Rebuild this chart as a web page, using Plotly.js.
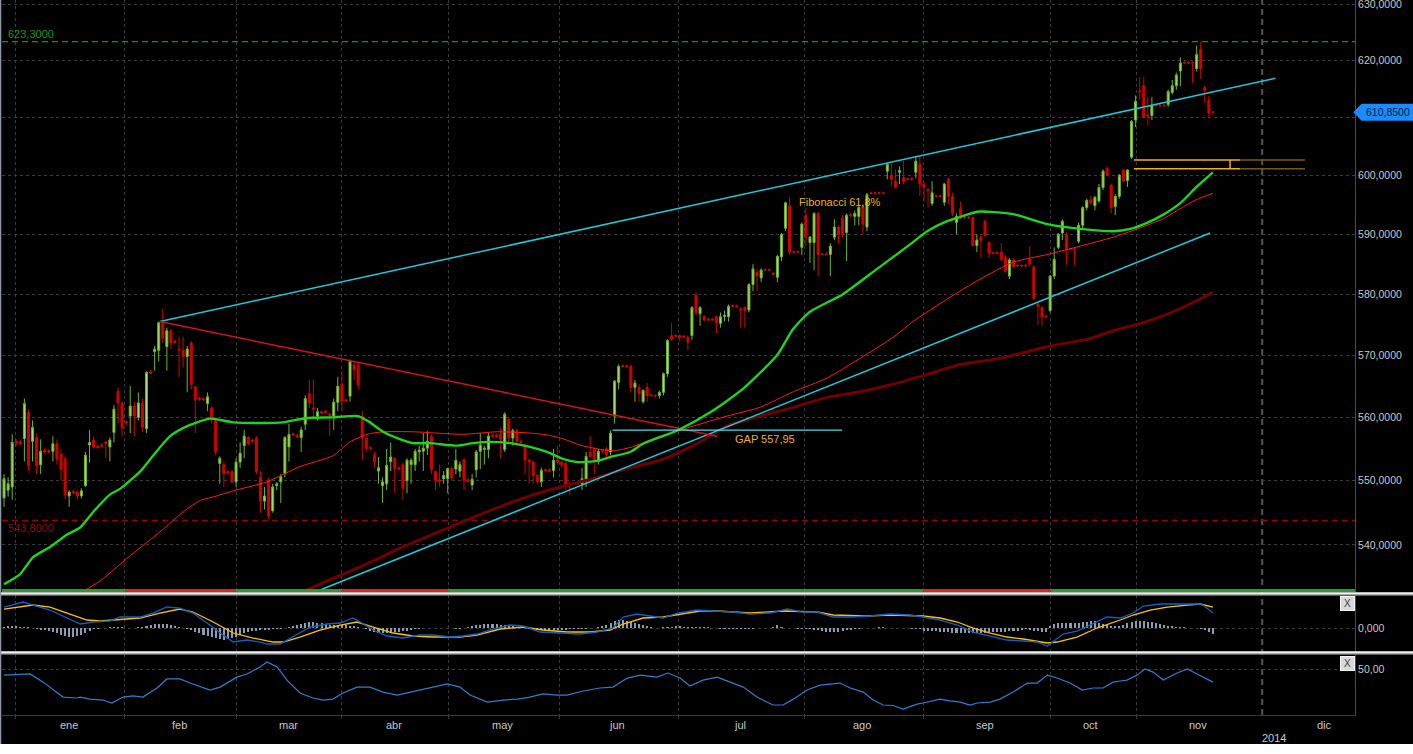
<!DOCTYPE html>
<html><head><meta charset="utf-8">
<script src="https://cdn.plot.ly/plotly-3.0.1.min.js"></script>
<style>html,body{margin:0;padding:0;background:#000;}#chart{width:1413px;height:754px;}</style>
</head><body><div id="chart"></div>
<script>
// ---- candle data (bar index 0..297) ----
const open = [547.3,548.5,549.0,556.2,556.1,556.6,560.8,556.2,556.8,552.5,
554.8,554.7,554.6,555.8,554.2,553.4,547.6,548.3,548.2,547.6,
549.2,555.6,556.4,555.4,555.6,556.1,555.3,557.6,564.2,562.2,
559.3,560.2,561.8,560.0,562.2,558.2,567.3,570.6,570.8,575.3,
571.4,574.0,572.3,571.0,570.8,569.8,572.0,564.9,563.1,563.0,
562.2,561.5,559.7,552.7,552.5,551.4,551.4,549.8,552.9,555.5,
556.8,556.4,556.7,550.6,546.8,550.0,545.3,549.2,549.8,551.1,
555.3,557.4,557.1,556.8,558.9,563.8,561.5,560.2,560.9,561.0,
560.5,560.2,562.4,565.3,562.8,563.4,568.4,568.4,560.2,556.7,
555.2,554.0,551.5,549.2,549.5,553.0,553.5,552.0,552.5,550.0,
552.5,552.5,554.5,554.6,555.1,557.0,551.4,550.1,550.3,550.3,
551.9,551.8,551.5,553.3,550.1,549.3,551.7,554.6,554.9,554.9,
557.1,557.2,557.3,554.9,559.7,556.7,557.9,556.2,555.6,553.2,
552.9,550.8,549.8,551.7,551.7,551.6,553.3,552.9,552.7,549.6,
549.6,549.7,549.5,550.0,554.5,555.0,553.0,554.8,555.0,554.5,
560.2,565.6,568.3,568.3,568.2,564.8,564.8,562.5,564.8,563.6,
563.5,563.5,564.0,567.0,573.2,573.2,573.2,573.1,572.9,573.2,
579.8,576.8,576.3,575.9,575.9,576.3,575.2,576.3,576.3,578.1,
578.1,577.6,577.8,577.4,581.6,583.6,582.7,584.1,584.1,583.5,
582.8,586.2,591.0,594.8,587.1,587.1,587.8,593.2,588.6,588.6,
593.5,586.7,586.7,586.6,589.5,591.2,592.7,590.3,593.3,593.0,
593.0,594.8,591.2,597.0,597.0,597.0,597.0,600.7,600.0,599.0,
600.5,599.6,599.4,599.4,600.5,601.9,598.5,597.6,595.2,596.5,
596.5,595.4,599.3,596.4,592.0,594.3,592.9,592.9,592.8,588.1,
589.5,592.2,588.6,586.9,586.9,587.0,586.2,583.0,585.7,584.8,
584.8,584.8,585.8,584.5,578.3,577.8,576.4,577.3,583.0,587.8,
590.2,590.0,587.6,587.6,588.8,591.5,594.5,595.8,594.8,595.6,
597.9,601.2,598.3,594.7,596.4,600.9,599.1,603.1,609.5,614.6,
615.5,610.4,610.3,612.1,612.1,612.1,612.2,614.3,615.5,618.1,
619.6,619.6,619.6,618.5,621.9,615.2,613.0,610.95];
const high = [551.0,550.5,557.3,556.5,556.4,563.0,561.3,559.5,557.5,556.5,
555.2,555.0,557.0,556.5,555.0,553.8,548.5,548.6,548.5,548.8,
554.5,558.0,557.0,555.6,555.9,556.3,556.8,562.0,564.8,562.5,
559.5,565.0,562.5,564.0,563.0,567.4,567.6,571.5,575.5,577.6,
574.5,574.3,572.5,573.0,573.0,571.5,572.3,565.0,563.3,563.2,
564.0,561.8,560.0,553.8,553.0,551.6,551.6,553.5,556.0,558.0,
557.0,556.6,557.0,551.5,549.0,550.5,549.5,549.8,551.0,557.0,
559.0,557.6,557.4,558.5,563.5,566.0,566.0,561.5,561.1,561.2,
560.8,563.0,566.5,567.5,563.0,569.3,569.0,568.8,561.0,557.0,
555.4,554.5,553.7,550.5,555.0,556.0,553.7,552.2,552.8,553.5,
553.5,555.0,555.5,557.5,557.8,557.3,551.6,552.5,551.5,552.0,
552.2,555.0,553.0,553.5,550.4,551.0,554.8,557.5,555.5,557.5,
557.3,557.4,558.3,560.8,560.0,558.2,558.2,556.4,555.8,553.4,
553.1,551.0,552.0,551.9,551.9,555.0,555.5,553.1,553.0,549.8,
549.8,550.0,552.0,554.5,557.0,555.3,555.0,555.0,555.3,557.95,
566.0,568.5,568.5,568.5,568.4,566.0,565.3,564.5,565.5,563.8,
563.7,564.3,567.2,572.6,575.3,573.4,573.4,573.3,573.2,578.0,
580.3,578.0,576.6,576.1,576.1,576.5,577.0,577.3,578.3,578.3,
578.3,577.8,578.0,581.8,585.0,584.2,584.3,584.3,584.3,583.7,
586.5,590.2,595.5,596.2,587.3,587.3,592.0,594.6,589.7,593.7,
593.8,586.9,586.9,588.5,592.5,591.5,593.2,593.5,593.5,594.0,
595.0,595.0,597.0,597.2,597.2,597.2,597.2,601.9,602.0,601.0,
601.5,602.5,599.6,599.6,603.3,603.3,598.8,597.8,599.0,596.7,
596.7,598.7,599.6,597.0,593.5,595.5,593.1,593.1,593.0,590.0,
590.0,592.5,588.8,587.1,587.1,588.5,586.5,586.0,586.0,585.0,
585.0,585.0,588.0,584.8,578.8,578.0,576.6,583.2,587.8,590.2,
592.5,590.3,587.8,587.8,592.0,594.7,596.0,596.5,596.5,598.5,
601.0,601.5,598.6,596.8,600.2,601.1,601.0,609.5,613.8,617.0,
617.0,613.6,613.5,612.3,612.3,612.3,614.8,616.5,617.8,620.5,
619.8,619.8,619.8,622.6,623.3,615.5,613.7,611.0];
const low = [545.9,547.5,547.0,555.5,555.6,553.0,551.5,553.0,551.0,551.0,
554.2,554.3,553.0,552.5,550.0,547.1,545.9,547.8,547.0,547.2,
549.0,552.8,555.0,555.0,555.2,553.5,553.0,556.0,559.0,557.0,
558.8,557.5,557.0,559.5,557.7,557.5,567.0,567.5,569.0,572.0,
567.5,571.0,571.8,566.5,568.0,564.0,564.5,557.5,562.6,562.6,
561.0,559.0,554.0,549.5,549.0,551.0,549.5,549.0,552.0,553.5,
555.5,556.0,551.0,545.0,545.5,544.0,545.0,548.5,546.5,550.5,
553.0,557.0,556.7,554.5,558.0,561.5,560.0,559.5,560.5,560.6,
557.0,558.0,561.0,561.0,562.4,562.5,566.0,564.5,553.2,554.5,
554.8,552.0,549.5,546.5,548.5,551.5,548.0,551.6,547.0,548.0,
549.5,551.5,553.0,551.5,554.0,551.0,548.5,549.0,549.5,548.0,
550.0,551.0,550.5,548.5,549.7,548.5,550.5,551.8,552.5,553.5,
556.8,556.7,553.5,554.5,556.0,555.5,555.8,555.8,551.0,549.5,
549.5,549.5,549.0,551.4,551.3,550.5,552.5,552.0,548.5,547.7,
549.3,549.3,548.5,549.0,553.5,551.0,552.5,554.3,553.5,554.0,
559.0,564.5,568.0,568.0,564.0,562.5,562.5,562.2,562.5,563.3,
563.2,563.0,563.5,566.5,572.3,572.9,572.2,572.8,570.8,572.5,
576.5,574.8,575.5,575.6,575.6,573.6,574.5,575.5,575.5,577.8,
577.8,574.5,574.5,577.0,580.5,580.5,582.0,583.8,583.8,583.1,
582.0,585.5,590.5,586.5,586.8,586.8,586.5,588.0,585.2,584.0,
583.0,586.4,586.4,583.0,589.0,588.5,589.5,585.5,593.0,591.5,
591.5,590.0,590.5,596.7,596.7,596.7,596.7,599.3,598.1,597.8,
598.5,598.5,599.1,599.1,599.5,596.5,595.5,594.5,594.8,596.2,
596.2,594.8,595.0,593.0,590.0,592.5,592.6,592.6,588.0,587.0,
586.0,589.5,586.0,586.6,586.6,585.5,583.5,582.5,584.3,584.5,
584.5,584.5,584.5,579.0,575.0,574.8,576.1,577.0,582.5,587.5,
589.0,584.8,587.3,584.8,588.5,591.0,594.0,595.0,594.0,595.3,
597.5,599.8,593.5,593.2,596.0,598.8,598.0,602.8,608.3,613.0,
609.8,608.6,609.5,611.8,611.8,611.8,611.8,614.0,614.8,615.4,
619.3,619.3,616.0,618.0,616.7,612.5,609.8,610.7];
const close = [550.3,549.5,556.0,555.9,555.8,562.2,552.4,558.4,552.4,554.6,
554.5,554.5,555.8,553.4,551.8,547.8,548.2,548.1,547.6,548.4,
554.0,556.0,555.3,555.2,555.4,555.9,556.4,561.3,562.3,558.4,
559.1,561.8,560.2,562.3,558.4,567.2,567.1,571.0,575.3,572.8,
574.0,572.0,572.1,570.8,569.8,571.0,565.3,562.8,562.9,562.8,
563.3,559.7,554.5,553.5,551.1,551.2,549.8,552.9,554.3,557.0,
555.8,556.2,551.4,546.8,547.6,544.5,549.0,549.5,550.6,556.8,
557.3,557.2,556.9,558.0,563.0,562.3,561.3,560.9,560.7,560.8,
560.3,562.4,565.0,562.6,562.6,569.0,567.7,565.2,556.7,555.1,
555.0,553.0,552.0,549.8,552.4,553.7,551.9,551.8,548.8,553.2,
553.2,554.6,554.8,555.1,556.2,551.7,550.0,549.9,550.8,551.9,
550.4,553.2,552.5,550.0,549.9,550.2,554.5,555.6,555.1,557.0,
557.0,556.9,556.5,560.5,556.7,557.9,556.2,556.0,553.2,552.9,
550.8,549.8,551.6,551.6,551.5,553.2,552.9,552.5,549.3,549.5,
549.5,549.6,550.3,553.8,553.8,553.2,554.6,554.6,554.1,557.5,
565.8,568.2,568.2,568.1,564.8,565.5,563.8,564.3,563.5,563.5,
563.4,564.0,567.0,572.4,572.6,573.1,573.0,573.0,572.2,577.8,
577.0,577.8,575.8,575.8,575.8,575.3,576.3,576.5,578.0,578.0,
577.9,577.4,577.3,581.6,584.2,583.0,584.0,584.0,584.0,583.3,
586.3,590.0,595.3,587.0,587.0,587.0,591.7,589.5,589.5,593.5,
586.6,586.6,586.6,588.0,591.2,590.0,590.0,593.2,593.1,593.5,
594.5,591.7,596.7,596.9,596.9,596.9,596.9,601.9,599.3,598.0,
600.8,598.9,599.3,599.3,602.4,598.5,598.0,597.4,597.0,596.4,
596.4,598.5,596.4,593.5,593.0,592.8,592.8,592.8,588.1,589.0,
589.0,589.8,586.8,586.8,586.8,585.8,583.8,585.7,584.6,584.7,
584.7,584.7,585.0,579.3,578.0,576.3,576.3,583.0,585.8,590.0,
592.2,587.5,587.5,587.5,591.5,594.5,595.7,595.3,596.2,597.9,
600.7,600.0,594.5,596.4,600.0,599.0,600.9,609.3,612.8,614.4,
610.0,610.2,612.0,612.0,612.0,612.0,614.5,615.5,617.4,619.5,
619.5,619.5,619.5,621.0,618.5,614.7,610.7,610.85];

// ---- moving averages (bar index, value) ----
const maGreenX = [0,3.9,7.1,11.3,15.5,18.7,21.9,26,28.5,33.4,36.6,40.8,45,50.6,56.3,62.9,68.6,74.4,80.8,87,89.9,93.1,96.6,100.5,104.7,111.3,115.2,119.4,124.3,129.2,133.4,137.3,140.8,145.7,148.9,153.8,157,165.4,173.5,181.6,189.9,193.9,198,206.1,214.5,222.6,226.8,231.7,234.9,239.1,247.9,256.3,264.4,272.5,276.7,280.8,284.8,288.9,293.1,297];
const maGreenY = [534.0,535.5,538.1,539.7,541.6,542.7,545.1,547.8,548.7,551.4,553.9,557.0,558.6,559.8,559.2,559.1,559.2,559.9,560.0,560.2,559.2,557.7,556.7,555.9,555.9,555.5,555.9,556.1,555.9,555.3,554.5,553.4,552.9,553.1,553.7,554.5,555.8,557.9,560.8,564.6,570.0,574.3,577.1,580.0,584.2,588.3,590.5,592.2,592.9,593.8,593.4,591.7,590.9,590.5,590.9,591.9,593.3,595.2,598.1,600.5];
const maRedX = [19.4,23.6,31.7,35.9,40,44,48.2,52.3,56.3,64.6,72.7,80.8,85,89.2,93.1,100.5,112.8,121.1,129.2,133.4,137.3,141.5,145.7,149.6,153.8,161.2,169.3,177.6,185.7,193.9,202.2,210.3,218.4,223.3,231.7,239.8,247.9,256.3,264.4,272.5,278.4,284.8,288.9,293.1,297];
const maRedY = [532.9,534.5,538.7,540.8,542.9,545.1,546.9,547.6,548.4,549.8,552.2,553.9,556.1,557.3,557.7,557.7,557.3,557.7,557.5,557.2,556.6,555.6,555.0,554.7,555.2,557.0,558.6,560.2,561.6,564.1,566.3,569.5,572.9,575.5,579.2,582.5,585.3,586.6,588.0,589.5,590.9,592.6,594.3,595.9,596.9];
const maDarkX = [73.5,80.8,89.2,97.3,120.1,129.2,137.3,145.7,153.8,161.2,169.3,177.6,185.7,193.9,202.2,210.3,218.4,226.8,234.9,244.7,257,266.8,272.5,280.8,288.9,297];
const maDarkY = [532.9,534.9,537.1,539.5,545.5,547.6,549.1,550.5,552.0,553.2,555.5,558.6,560.2,561.6,563.2,564.1,565.3,566.9,568.5,569.5,571.5,572.7,574.0,575.5,577.6,580.3];

// ---- drawn lines / levels ----
const upperChannelX = [38.3, 312.3], upperChannelY = [575.5, 616.8];
const lowerChannelX = [76.4, 296.3], lowerChannelY = [532.8, 590.2];
const downTrendX = [38.3, 175.2], downTrendY = [575.5, 557.0];
const gapX = [149.5, 205.9], gapLevel = 557.95;
const orangeX = [277.6, 303.7, 319.6], orangeTop = 602.6, orangeBottom = 601.1, orangeJoinX = 301.2;
const highLevel = 623.3, lowLevel = 543.8;
const fiboX = 194.8, fiboY = 595.5;

// ---- MACD panel ----
const macdX = [0,2.2,4.7,7.1,11.3,15.5,18.7,21.9,26,28.5,33.4,36.6,40,43.2,46.4,49.9,53.1,56.3,59.7,62.9,64.6,67.8,71,75.2,79.4,82.6,85.7,87.5,90.7,94.1,98,102.2,105.4,109.6,112.8,116.2,120.1,124.3,127.5,131.7,136.6,141.5,145.7,149.6,152.1,155.5,158.7,161.9,165.4,170.3,174.2,179.1,183.3,188.2,192.4,196.3,199.8,203.7,207.9,212.8,217.7,222.6,225.8,230,234.2,238.1,242.3,246.4,250.4,253.8,256.3,257.7,260.2,263.6,266.8,271,274.2,277.4,279.9,284,288.2,293.1,294.6,297];
const macdY = [21,23,26,23,18,10,4,6,7,11,11,15,21,20,15,5,-5,-14,-12,-14,-16,-16,-9,1,4,5,10,6,-2,-8,-10,-7,-7,-9,-8,-6,-1,3,2,-4,-5,-6,-4,0,11,14,12,10,15,18,17,16,14,15,19,16,16,11,11,12,14,13,11,8,3,-4,-8,-12,-13,-14,-18,-14,-6,-3,3,11,10,15,22,24,24,24,23,15];
const signalX = [0,3.9,7.1,11.3,15.5,20.4,23.6,27.8,33.4,38.3,43.2,46.4,51.4,56.3,61.2,66.1,68.6,72.7,77.6,82.6,86.7,90.7,95.6,100.5,105.4,112,116.2,121.9,127.5,132.4,138.3,144,148.9,152.1,157,161.9,166.8,171,175.2,183.3,191.4,199.8,203.7,212,217.7,225.8,230,234.2,238.1,242.3,246.4,250.4,256.3,258.7,263.6,268.5,274.2,277.4,281.6,285.8,290.7,293.9,297];
const signalY = [19,21,23,21,15,8,7,8,10,15,19,16,6,-5,-10,-14,-14,-9,-2,3,6,1,-5,-8,-9,-9,-7,-1,1,-2,-4,-4,-2,4,10,11,14,17,17,15,17,16,13,12,13,12,10,6,0,-5,-9,-11,-15,-14,-9,0,8,13,18,21,23,24,21];
const histY = [1.5,2,2,2,1.5,1,1,0.5,
-1,-1.5,-2,-3,-4,-5,-7,-8,-9,-9,-8,-7,-5,-3,
-1,-0.5,0,0.5,1,1,1.5,1,0.5,0,0.5,1,1.5,
2,3,4,4.5,4.5,4,3,2,1,0,-0.5,
-2,-3.5,-5,-6.5,-8,-9,-10,-11,-12,-11,-10,-9,-7,-5,
-4,-3,-2.5,-2,-2,-1.5,-1,-1,-0.5,0,1,
2,3,4,5,6,6,5.5,5,4,3.5,
3,3,3.5,3,2.5,2,1,0,-1,-3,
-4,-5,-5,-5,-4.5,-4,-3.5,-3,-2.5,-2,-1,
-0.5,0,0,0.5,0.5,0.5,0,0,0,-0.5,-0.5,
0.5,1,2,3,3.5,4,4,4,4,3.5,3,2.5,2,1,0.5,0,
-1,-1.5,-2,-2,-2,-2,-1.5,-1.5,-1.5,-1.5,-1,-1,-1,-0.5,-0.5,0,0,
1,2,3,5,7,8,8,7,6,5,4,3,2,1,0.5,
0.5,1,1,1.5,2,2,1.5,1.5,1.5,1,1,1,1,0.5,0,
-0.5,-1,-1,-1,-1,-1,-0.5,-0.5,-0.5,0,0,0.5,0.5,1,3,
1,0.5,0,0,-0.5,-0.5,-1,-1,-1.5,-2,
-3,-3.5,-4,-4,-3.5,-3,-2,-1.5,-1,-0.5,0,0,
0.5,0.5,1,1,0.5,0.5,0,0,
0,0,-0.5,-0.5,-1,-2.5,-3,-3,-3,-3.5,-3.5,-4,-4.5,-5,-5,-5,-5,-5,-5,-4.5,-4.5,-4,-4,-4,-3.5,-3.5,-3,-3,-2.5,-2,-1,-1.5,-2.5,-3,-3.5,-3.5,
2,4,5,5,5,5,5,5,6,6,7,7,5,4,3,2.5,2,2,3,
5,6,7,7.5,7,6.5,6,5,4,3,
2.5,2,1.5,1,1,0.5,0.5,0,
-1,-2,-4,-6];

// ---- lower oscillator panel ----
const oscX = [0,6.4,9.6,14.5,17.9,18.7,21.1,24.3,26.5,29.2,31.7,34.1,37.6,40,43.2,45.7,50.6,53.1,57.2,59.7,62.9,64.6,67.1,69.5,72.7,75.9,78.4,80.8,83.3,86.7,89.9,93.1,96.6,99.8,104.7,108.9,112,114.5,118.7,122.6,126.1,129.2,132.4,135.9,138.3,142.3,146.4,149.6,153.1,156.3,160.4,163.1,166.1,168.5,171.7,175.2,178.4,181.6,185,188.9,191.4,193.9,197.3,200.5,205.4,207.9,211.1,213.5,216,218.4,220.9,224.3,225.8,230,232.4,234.9,237.3,239.1,242.3,244.7,247.9,251.4,253.8,256.3,258.7,261.9,264.9,267.6,270,272.5,274.2,275.9,278.4,280.3,282.3,284.8,288.2,290.7,293.1,297];
const oscY = [47.6,48.1,44.5,37.9,37.5,37.9,37.0,36.6,35.3,37.9,38.4,37.9,41.9,45.9,45.9,44.1,41.0,42.3,46.7,48.1,51.2,53.4,51.2,45.4,39.7,37.5,36.6,37.0,39.7,42.3,42.3,40.1,38.8,40.1,42.3,43.7,42.3,38.8,35.7,36.6,37.0,37.9,39.3,38.8,38.8,40.6,41.9,42.3,46.3,47.6,46.7,48.5,46.3,42.8,45.4,46.7,44.5,42.3,37.9,34.4,34.4,37.0,41.0,43.2,44.1,41.9,40.1,36.6,34.4,34.2,32.6,34.8,35.3,37.0,36.2,35.7,34.4,35.3,35.7,37.0,40.1,44.1,44.1,47.6,46.3,44.1,41.0,41.9,41.9,44.5,45.0,45.4,47.6,50.3,48.9,45.4,48.5,50.3,48.1,44.5];

// ---- axis labels ----
const monthNames = ['ene','feb','mar','abr','may','jun','jul','ago','sep','oct','nov','dic'];
const monthStarts = [2.9,29.7,57.0,83.0,109.1,136.4,165.6,196.6,225.8,257.2,278.1,309.1];
const monthLabelPos = [16,43,69.8,95.8,122.4,150.6,180.8,210.8,241,267,293.4,324.3];
const yearLabel = '2014', yearLabelPos = 312.1;
const priceTicks = [540,550,560,570,580,590,600,610,620,630];
const stripStart = [-0.5,29.7,57.0,83.0,109.1,225.8,257.2];
const stripEnd   = [29.7,57.0,83.0,109.1,225.8,257.2,331.9];
const stripUp    = [true,false,true,false,true,false,true];

const XR = [-0.5, 331.9];
const YR = [2.72657, 2.79984];
const idx = open.map((_, i) => i);
const fmt = (v, d) => v.toFixed(d).replace('.', ',');
const L = Math.log10;
const FONT = 'Liberation Sans, Arial, sans-serif';
const TICKC = '#c8c8c8';
const lastClose = close[close.length - 1];

const traces = [
  {type:'scatter', mode:'lines', x:XR, y:[highLevel,highLevel], line:{color:'#0f9a0f', width:1.3, dash:'6px,4px'}, hoverinfo:'skip'},
  {type:'scatter', mode:'lines', x:XR, y:[lowLevel,lowLevel], line:{color:'#9a0000', width:1.3, dash:'6px,4px'}, hoverinfo:'skip'},
  {type:'scatter', mode:'lines', x:maDarkX, y:maDarkY, line:{color:'#6e0000', width:3, shape:'spline', smoothing:0.6}, hoverinfo:'skip'},
  {type:'scatter', mode:'lines', x:upperChannelX, y:upperChannelY, line:{color:'#1fc8d6', width:1.5}, hoverinfo:'skip'},
  {type:'scatter', mode:'lines', x:lowerChannelX, y:lowerChannelY, line:{color:'#1fc8d6', width:1.5}, hoverinfo:'skip'},
  {type:'scatter', mode:'lines', x:downTrendX, y:downTrendY, line:{color:'#d01515', width:1.5}, hoverinfo:'skip'},
  {type:'scatter', mode:'lines', x:maRedX, y:maRedY, line:{color:'#ff1a1a', width:1, shape:'spline', smoothing:0.6}, hoverinfo:'skip'},
  {type:'scatter', mode:'lines', x:maGreenX, y:maGreenY, line:{color:'#1ed41e', width:2.4, shape:'spline', smoothing:0.6}, hoverinfo:'skip'},
  {type:'scatter', mode:'lines', x:gapX, y:[gapLevel,gapLevel], line:{color:'#3fe0f0', width:1.2}, hoverinfo:'skip'},
  {type:'scatter', mode:'lines', x:[orangeX[0],orangeX[1]], y:[orangeTop,orangeTop], line:{color:'#f2b010', width:1.5}, hoverinfo:'skip'},
  {type:'scatter', mode:'lines', x:[orangeX[0],orangeX[1]], y:[orangeBottom,orangeBottom], line:{color:'#f2b010', width:1.5}, hoverinfo:'skip'},
  {type:'scatter', mode:'lines', x:[orangeX[1],orangeX[2]], y:[orangeTop,orangeTop], line:{color:'#7a5a10', width:1.5}, hoverinfo:'skip'},
  {type:'scatter', mode:'lines', x:[orangeX[1],orangeX[2]], y:[orangeBottom,orangeBottom], line:{color:'#7a5a10', width:1.5}, hoverinfo:'skip'},
  {type:'scatter', mode:'lines', x:[orangeJoinX,orangeJoinX], y:[orangeTop,orangeBottom], line:{color:'#f2b010', width:1.5}, hoverinfo:'skip'},
  {type:'candlestick', x:idx, open:open, high:high, low:low, close:close,
   increasing:{line:{color:'#6cb52c', width:1}, fillcolor:'#a9dc74'},
   decreasing:{line:{color:'#d40000', width:1}, fillcolor:'#d40000'},
   whiskerwidth:0, hoverinfo:'skip'},
  // MACD
  {type:'bar', x:idx, y:histY, xaxis:'x2', yaxis:'y2', width:0.5, marker:{color:'#8a9db0', line:{width:0}}, hoverinfo:'skip'},
  {type:'scatter', mode:'lines', x:signalX, y:signalY, xaxis:'x2', yaxis:'y2', line:{color:'#ffc000', width:1.3}, hoverinfo:'skip'},
  {type:'scatter', mode:'lines', x:macdX, y:macdY, xaxis:'x2', yaxis:'y2', line:{color:'#1060c8', width:1.3}, hoverinfo:'skip'},
  // oscillator
  {type:'scatter', mode:'lines', x:oscX, y:oscY, xaxis:'x3', yaxis:'y3', line:{color:'#2e7fd0', width:1.2}, hoverinfo:'skip'}
];

const gridX = monthStarts.slice(0, monthStarts.length - 1);
const xbase = {range:XR, type:'linear', autorange:false, tickvals:gridX, showticklabels:false,
  showgrid:true, gridcolor:'#3c3c3c', gridwidth:1, griddash:'dot', zeroline:false, ticks:'', fixedrange:true};

const shapes = [];
for (let i = 0; i < stripStart.length; i++) {
  shapes.push({type:'rect', xref:'x', yref:'paper', x0:stripStart[i], x1:stripEnd[i], y0:0.1720, y1:0.1762,
    fillcolor: stripUp[i] ? '#2b9b2b' : '#e02222', line:{width:0}, layer:'above'});
}
shapes.push({type:'line', xref:'x', yref:'paper', x0:monthStarts[11], x1:monthStarts[11], y0:0, y1:1,
  line:{color:'#555555', width:2, dash:'6px,4px'}, layer:'below'});
[0.1699, 0.0874].forEach(y => {
  shapes.push({type:'line', xref:'paper', yref:'paper', x0:-0.002, x1:1.05, y0:y, y1:y, line:{color:'#f2f2f2', width:2.5}});
  shapes.push({type:'line', xref:'paper', yref:'paper', x0:-0.002, x1:1.05, y0:y-0.0025, y1:y-0.0025, line:{color:'#7a7a7a', width:1}});
});
shapes.push({type:'line', xref:'paper', yref:'paper', x0:-0.0011, x1:-0.0011, y0:-0.0406, y1:1, line:{color:'#8a98a8', width:1.5}});
shapes.push({type:'rect', xref:'paper', yref:'paper', x0:-0.01, x1:1.05, y0:-0.07, y1:-0.0406, fillcolor:'#ffffff', line:{width:0}});
// last-price tab, positioned from the price axis scale
const lastFrac = (L(lastClose) - YR[0]) / (YR[1] - YR[0]);
const tabH = 8.5 / 592;
shapes.push({type:'path', xref:'paper', yref:'y domain',
  path:'M 0.9988,' + lastFrac + ' L 1.0048,' + (lastFrac + tabH) + ' L 1.0435,' + (lastFrac + tabH) +
       ' L 1.0435,' + (lastFrac - tabH) + ' L 1.0048,' + (lastFrac - tabH) + ' Z',
  fillcolor:'#1a8cff', line:{width:0}});

const annotations = [];
monthNames.forEach((m, i) => annotations.push({xref:'x', yref:'paper', x:monthLabelPos[i], y:-0.014, text:m,
  showarrow:false, font:{family:FONT, size:11, color:TICKC}, xanchor:'center', yanchor:'middle'}));
annotations.push({xref:'x', yref:'paper', x:yearLabelPos, y:-0.0325, text:yearLabel, showarrow:false,
  font:{family:FONT, size:11, color:TICKC}, xanchor:'center', yanchor:'middle'});
annotations.push({xref:'x', yref:'y', x:0.6, y:L(highLevel), text:fmt(highLevel,4), showarrow:false,
  font:{family:FONT, size:11, color:'#129a12'}, xanchor:'left', yanchor:'bottom'});
annotations.push({xref:'x', yref:'y', x:0.6, y:L(lowLevel), text:fmt(lowLevel,4), showarrow:false,
  font:{family:FONT, size:11, color:'#8e0a0a'}, xanchor:'left', yanchor:'top'});
annotations.push({xref:'x', yref:'y', x:fiboX, y:L(fiboY), text:'Fibonacci 61,8%', showarrow:false,
  font:{family:FONT, size:11, color:'#f2b010'}, xanchor:'left', yanchor:'middle'});
annotations.push({xref:'x', yref:'y', x:179.1, y:L(gapLevel), text:'GAP ' + fmt(gapLevel,2), showarrow:false,
  font:{family:FONT, size:11, color:'#f2b010'}, xanchor:'left', yanchor:'top', yshift:-1});
annotations.push({xref:'paper', yref:'y', x:1.0245, y:L(lastClose), text:fmt(lastClose,4), showarrow:false,
  font:{family:FONT, size:10.5, color:'#001a3a'}, xanchor:'center', yanchor:'middle'});
[0.1559, 0.0720].forEach(y => annotations.push({xref:'paper', yref:'paper', x:0.9941, y:y, text:'X', showarrow:false,
  font:{family:FONT, size:10, color:'#404040'}, bgcolor:'#d8d8d8', bordercolor:'#f4f4f4', borderwidth:1,
  width:11, height:11, xanchor:'center', yanchor:'middle'}));

// the price tab covers the tick label of the level it sits on, as in the reference
const priceTickText = priceTicks.map(v => Math.abs(v - lastClose) < 3 ? '' : fmt(v,4));

const layout = {
  width:1413, height:754, paper_bgcolor:'#000', plot_bgcolor:'#000',
  margin:{l:2, r:58, t:0, b:39}, showlegend:false, hovermode:false, dragmode:false,
  xaxis: Object.assign({}, xbase, {anchor:'y', domain:[0,1], rangeslider:{visible:false}}),
  xaxis2: Object.assign({}, xbase, {anchor:'y2', domain:[0,1]}),
  xaxis3: Object.assign({}, xbase, {anchor:'y3', domain:[0,1], showline:true, linecolor:'#3a3a3a', linewidth:1,
    ticks:'outside', ticklen:3, tickcolor:'#3a3a3a'}),
  yaxis: {domain:[0.1720,1], type:'log', range:YR, autorange:false, side:'right',
    tickvals:priceTicks, ticktext:priceTickText, tickfont:{family:FONT, size:10.5, color:TICKC},
    ticklabeloverflow:'allow',
    showgrid:true, gridcolor:'#3c3c3c', griddash:'dot', zeroline:false, showline:true, linecolor:'#4a4a4a', ticks:'', fixedrange:true},
  yaxis2: {domain:[0.0895,0.1678], range:[-23,33], autorange:false, side:'right',
    tickvals:[0], ticktext:['0,000'], tickfont:{family:FONT, size:10.5, color:TICKC},
    showgrid:true, gridcolor:'#3c3c3c', griddash:'dot', zeroline:false, showline:true, linecolor:'#4a4a4a', ticks:'', fixedrange:true},
  yaxis3: {domain:[0,0.0853], range:[30,56.9], autorange:false, side:'right',
    tickvals:[50], ticktext:['50,00'], tickfont:{family:FONT, size:10.5, color:TICKC},
    showgrid:true, gridcolor:'#3c3c3c', griddash:'dot', zeroline:false, showline:true, linecolor:'#4a4a4a', ticks:'', fixedrange:true},
  bargap:0, shapes:shapes, annotations:annotations
};
Plotly.newPlot('chart', traces, layout, {staticPlot:true, displayModeBar:false});
</script>
</body></html>
